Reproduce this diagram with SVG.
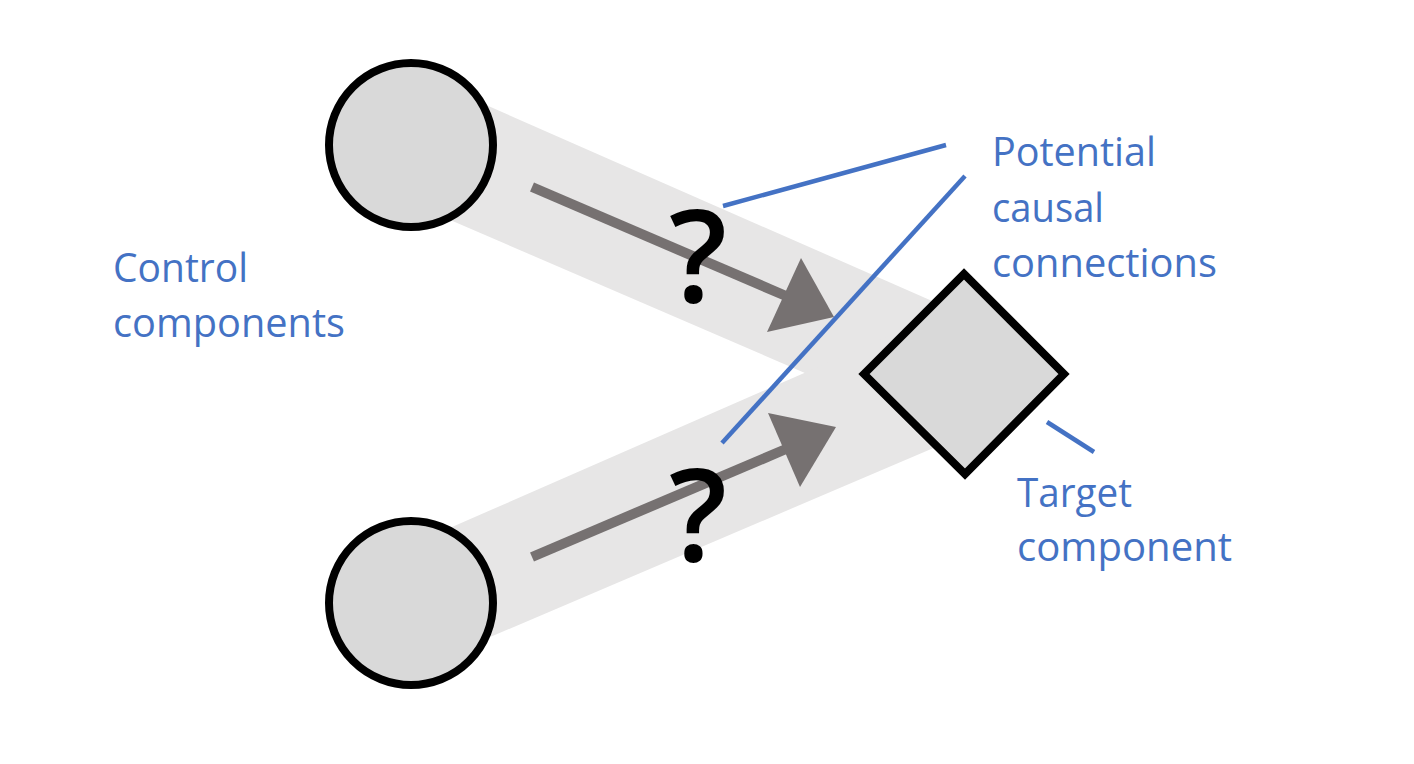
<svg xmlns="http://www.w3.org/2000/svg" width="1414" height="764" viewBox="0 0 1414 764">
  <style>
    .band { fill: #e7e6e6; }
    .node { fill: #d9d9d9; stroke: #000000; stroke-width: 8; }
    .shaft { stroke: #767171; stroke-width: 10; fill: none; }
    .head { fill: #767171; }
    .q { font-family: "Open Sans", "Liberation Sans", sans-serif; font-size: 128px; font-weight: 600; fill: #000000; text-anchor: middle; }
    .lbl { font-family: "Open Sans", "Liberation Sans", sans-serif; font-size: 41px; fill: #4472c4; }
    .lead { stroke: #4472c4; stroke-width: 4.5; fill: none; }
  </style>
  <rect width="1414" height="764" fill="#ffffff"/>

  <g id="connectors">
    <polygon class="band" points="420,76 964,315 964,414 900,414 420,207"/>
    <polygon class="band" points="420,541 964,303 964,435 420,667"/>
    <line class="shaft" x1="532" y1="187" x2="786" y2="296"/>
    <polygon class="head" points="834,317 801,258 767,332"/>
    <line class="shaft" x1="532" y1="557" x2="786" y2="449"/>
    <polygon class="head" points="836,427 768,413 800,487"/>
    <text class="q" x="698" y="302">?</text>
    <text class="q" x="698" y="561">?</text>
  </g>

  <g id="control-top">
    <circle class="node" cx="411" cy="145" r="82"/>
  </g>
  <g id="control-bottom">
    <circle class="node" cx="411" cy="603" r="82"/>
  </g>
  <g id="target">
    <polygon class="node" points="864,374 964,274 1064,374 965,474"/>
  </g>

  <g id="label-control">
    <text class="lbl" x="113" y="282" textLength="135" lengthAdjust="spacingAndGlyphs">Control</text>
    <text class="lbl" x="113" y="337" textLength="232" lengthAdjust="spacingAndGlyphs">components</text>
  </g>
  <g id="label-potential">
    <line class="lead" x1="723" y1="206" x2="946" y2="145"/>
    <line class="lead" x1="965" y1="176" x2="722" y2="443"/>
    <text class="lbl" x="992" y="166" textLength="164" lengthAdjust="spacingAndGlyphs">Potential</text>
    <text class="lbl" x="992" y="222" textLength="112" lengthAdjust="spacingAndGlyphs">causal</text>
    <text class="lbl" x="992" y="277" textLength="225" lengthAdjust="spacingAndGlyphs">connections</text>
  </g>
  <g id="label-target">
    <line class="lead" x1="1047" y1="422" x2="1094" y2="452"/>
    <text class="lbl" x="1017" y="507" textLength="115" lengthAdjust="spacingAndGlyphs">Target</text>
    <text class="lbl" x="1017" y="561" textLength="215" lengthAdjust="spacingAndGlyphs">component</text>
  </g>
</svg>
